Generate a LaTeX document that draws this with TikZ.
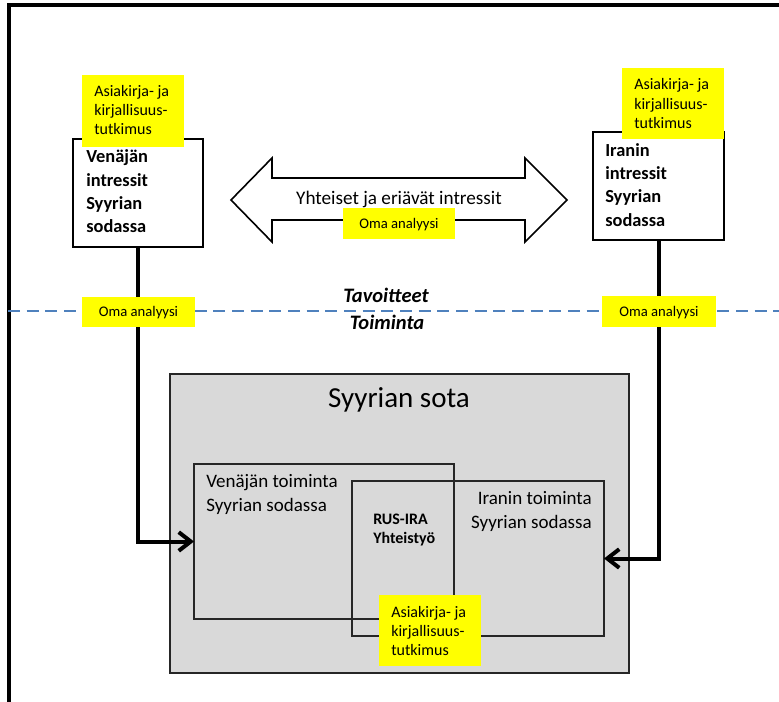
\documentclass[tikz,border=0pt]{standalone}
\usepackage{fontspec}
\setmainfont{Carlito}
\usetikzlibrary{arrows.meta}
\definecolor{dashblue}{RGB}{79,129,189}
\definecolor{warbox}{RGB}{217,217,217}
\definecolor{hl}{RGB}{255,255,0}
\newcommand\mybox[6]{\node[#6, anchor=center, inner sep=0pt, outer sep=0pt, minimum width={(#4-#2)*0.75pt}, minimum height={(#5-#3)*0.75pt}] (#1) at ({(#2+#4)/2},{(#3+#5)/2}) {};}
\tikzset{
  whitebox/.style={draw=black, fill=white, line width=1.2pt},
  yellowbox/.style={fill=hl},
  linebox/.style={draw=black!85, line width=1.3pt},
  graybox/.style={draw=black!85, fill=warbox, line width=1.5pt},
  lit/.style={anchor=base west, inner sep=0pt, font=\fontsize{12pt}{15pt}\selectfont},
  oma/.style={anchor=base, inner sep=0pt, font=\fontsize{11pt}{13pt}\selectfont},
  boldtxt/.style={anchor=base west, inner sep=0pt, font=\fontsize{13.8pt}{17pt}\selectfont\bfseries},
  acttxt/.style={inner sep=0pt, font=\fontsize{14.25pt}{18pt}\selectfont},
  conn/.style={line width=3pt, -{Straight Barb[length=9pt,width=14pt]}},
  dashline/.style={draw=dashblue, line width=1.7pt, dash pattern=on 9pt off 5pt},
  frame/.style={line width=2.6pt}
}
\begin{document}
\begin{tikzpicture}[x=0.75pt,y=-0.75pt]
\useasboundingbox (0,0) rectangle (779,702);
% outer frame
\coordinate (ftl) at (9,5);
\coordinate (ftr) at (779,5);
\coordinate (fbl) at (9,702);
\draw[frame] (ftr) -- (ftl) -- (fbl);
% dashed separator
\coordinate (dl) at (8,311);
\coordinate (dr) at (779,311);
\draw[dashline] (dl) -- (dr);
% upper boxes
\mybox{w1}{73}{139}{203}{247}{whitebox}
\mybox{w2}{593}{132}{724}{240}{whitebox}
\node[boldtxt] (w1a) at (86,163) {Venäjän};
\node[boldtxt] (w1b) at (86,187) {intressit};
\node[boldtxt] (w1c) at (86,210) {Syyrian};
\node[boldtxt] (w1d) at (86,233) {sodassa};
\node[boldtxt] (w2a) at (605,157) {Iranin};
\node[boldtxt] (w2b) at (605,180) {intressit};
\node[boldtxt] (w2c) at (605,203) {Syyrian};
\node[boldtxt] (w2d) at (605,227) {sodassa};
\mybox{y1}{82}{75}{184}{147}{yellowbox}
\node[lit] (y1a) at (94,96.5) {Asiakirja- ja};
\node[lit] (y1b) at (94,116) {kirjallisuus-};
\node[lit] (y1c) at (94,135) {tutkimus};
\mybox{y2}{622}{68}{724}{139}{yellowbox}
\node[lit] (y2a) at (634,90) {Asiakirja- ja};
\node[lit] (y2b) at (634,109.5) {kirjallisuus-};
\node[lit] (y2c) at (634,128.5) {tutkimus};
% double arrow
\draw[line width=1.2pt, fill=white, line join=miter]
  (231,200) -- (272,158) -- (272,178) -- (525,178) -- (525,158) -- (567,200)
  -- (525,242) -- (525,220) -- (272,220) -- (272,242) -- cycle;
\node[anchor=base, inner sep=0pt, font=\fontsize{14.4pt}{17pt}\selectfont] (dtxt) at (399,205) {Yhteiset ja eriävät intressit};
\mybox{o1}{343}{208}{455}{239}{yellowbox}
\node[oma] (o1t) at (399,228.5) {Oma analyysi};
% war box
\mybox{war}{170}{374}{629}{673}{graybox}
\node[anchor=base, inner sep=0pt, font=\fontsize{21.75pt}{26pt}\selectfont] (wart) at (399,408) {Syyrian sota};
\mybox{vbox}{194}{464}{454}{619}{linebox}
\mybox{ibox}{352}{481}{604}{636}{linebox}
\node[acttxt, anchor=base west] (v1) at (206,488) {Venäjän toiminta};
\node[acttxt, anchor=base west] (v2) at (206,512) {Syyrian sodassa};
\node[acttxt, anchor=base east] (i1) at (592,504) {Iranin toiminta};
\node[acttxt, anchor=base east] (i2) at (592,528) {Syyrian sodassa};
\node[anchor=base west, inner sep=0pt, font=\fontsize{12pt}{14pt}\selectfont\bfseries] (r1) at (373,524) {RUS-IRA};
\node[anchor=base west, inner sep=0pt, font=\fontsize{12pt}{14pt}\selectfont\bfseries] (r2) at (373,543) {Yhteistyö};
\mybox{y3}{379}{595}{481}{666}{yellowbox}
\node[lit] (y3a) at (391,617) {Asiakirja- ja};
\node[lit] (y3b) at (391,636.5) {kirjallisuus-};
\node[lit] (y3c) at (391,655.5) {tutkimus};
% connectors
\draw[conn] (w1.south) |- (vbox.west);
\draw[conn] (w2.south) |- (ibox.east);
% labels on the separator
\mybox{o2}{82}{297}{195}{327}{yellowbox}
\node[oma] (o2t) at (138.5,317) {Oma analyysi};
\mybox{o3}{602}{296}{716}{327}{yellowbox}
\node[oma] (o3t) at (659,316.5) {Oma analyysi};
\node[anchor=base, inner sep=0pt, font=\fontsize{15.4pt}{18pt}\selectfont\bfseries\itshape] (tav) at (386,303) {Tavoitteet};
\node[anchor=base, inner sep=0pt, font=\fontsize{15.4pt}{18pt}\selectfont\bfseries\itshape] (toi) at (387,330) {Toiminta};
\end{tikzpicture}
\end{document}
